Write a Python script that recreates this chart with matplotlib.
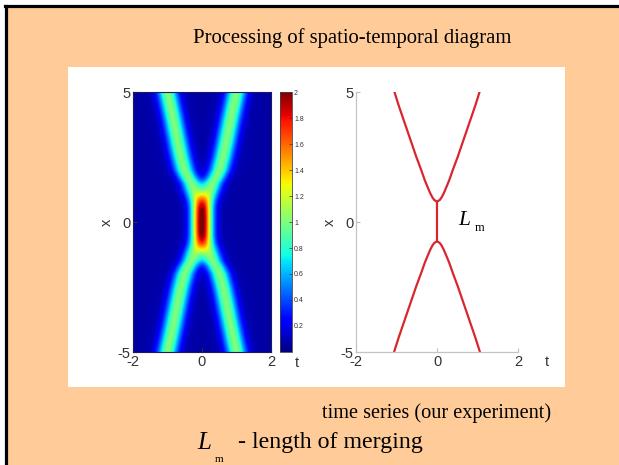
import numpy as np
import matplotlib
matplotlib.use("Agg")
import matplotlib.pyplot as plt
from matplotlib.patches import Rectangle
from matplotlib.lines import Line2D

# ---------------- data ----------------
# heatmap: beam centre-line |t| versus |x|, beam amplitude and width
hm_x_nodes = [0.0, 0.5, 0.8, 1.0, 1.2, 1.5, 1.75, 2.0, 2.5, 3.0, 4.0, 5.0]
hm_center = [0.0, 0.04, 0.11, 0.17, 0.23, 0.31, 0.42, 0.51, 0.61, 0.69, 0.84, 1.00]
hm_amp_nodes = [0.0, 0.4, 0.8, 1.2, 2.0, 5.0]
hm_amp = [1.00, 0.99, 0.95, 0.92, 0.93, 0.94]
hm_width = 0.205
hm_background = 0.07

# right plot: red traces (|t| vs x) for upper and lower branches
x_upper = [0.78, 0.85, 0.95, 1.1, 1.3, 1.6, 2.0, 2.5, 3.0, 3.5, 4.0, 4.5, 5.0]
t_upper = [0.0, 0.07, 0.115, 0.165, 0.22, 0.30, 0.39, 0.51, 0.62, 0.73, 0.84, 0.95, 1.05]
x_lower = [-0.74, -0.81, -0.91, -1.06, -1.26, -1.56, -1.96, -2.46, -2.96, -3.46, -3.96, -4.46, -5.0]
t_lower = [0.0, 0.07, 0.115, 0.165, 0.22, 0.30, 0.39, 0.51, 0.62, 0.73, 0.84, 0.95, 1.06]
merge_x = [-0.74, 0.78]

cbar_ticks = [0.2, 0.4, 0.6, 0.8, 1.0, 1.2, 1.4, 1.6, 1.8, 2.0]
x_ticks = [-2, 0, 2]
y_ticks = [-5, 0, 5]

title_text = "Processing of spatio-temporal diagram"
caption_text = "time series (our experiment)"
legend_text = "- length of merging"

# ---------------- figure ----------------
W, H = 619, 465
fig = plt.figure(figsize=(W / 100, H / 100), dpi=100)
fig.patch.set_facecolor("white")

def fx(px):
    return px / W

def fy(py):
    return 1 - py / H

peach = "#FFCC99"
fig.patches.append(Rectangle((fx(5), 0), 1 - fx(5), fy(5), transform=fig.transFigure,
                             facecolor=peach, edgecolor="none", zorder=-3))
fig.lines.append(Line2D([fx(6), fx(6)], [0, fy(6)], transform=fig.transFigure,
                        color="black", lw=2.3, zorder=-2))
fig.lines.append(Line2D([fx(5), 1], [fy(6), fy(6)], transform=fig.transFigure,
                        color="black", lw=2.3, zorder=-2))
# white panel
fig.patches.append(Rectangle((fx(68), fy(387)), fx(565) - fx(68), fy(67) - fy(387),
                             transform=fig.transFigure, facecolor="white",
                             edgecolor="none", zorder=-1))

serif = ["Liberation Serif", "DejaVu Serif"]
sans = ["Liberation Sans", "DejaVu Sans"]
tick_col = "#333333"

fig.text(fx(352), fy(38), title_text, family=serif, fontsize=14.9,
         ha="center", va="center", color="black")
fig.text(fx(437), fy(413), caption_text, family=serif, fontsize=14.6,
         ha="center", va="center", color="black")
fig.text(fx(204), fy(443), "L", family=serif, style="italic", fontsize=18,
         ha="center", va="center", color="black")
fig.text(fx(219), fy(459), "m", family=serif, fontsize=8,
         ha="center", va="center", color="black")
fig.text(fx(238), fy(442), legend_text, family=serif, fontsize=17.2,
         ha="left", va="center", color="black")

# ---------------- heatmap ----------------
ax1 = fig.add_axes([fx(133), fy(352), fx(271) - fx(133), fy(92) - fy(352)])
tg = np.linspace(-2, 2, 401)
xg = np.linspace(-5, 5, 501)
ax_abs = np.abs(xg)
c = np.interp(ax_abs, hm_x_nodes, hm_center)
a = np.interp(ax_abs, hm_amp_nodes, hm_amp)
T = tg[None, :]
field = (a[:, None] * np.exp(-(T - c[:, None]) ** 2 / (2 * hm_width ** 2)) +
         a[:, None] * np.exp(-(T + c[:, None]) ** 2 / (2 * hm_width ** 2)) + hm_background)
im = ax1.imshow(field, extent=[-2, 2, -5, 5], origin="lower", aspect="auto",
                cmap="jet", vmin=0, vmax=2, interpolation="bilinear")
ax1.set_xticks(x_ticks)
ax1.set_yticks(y_ticks)
ax1.set_xticklabels([str(v) for v in x_ticks])
ax1.set_yticklabels([str(v) for v in y_ticks])
ax1.tick_params(direction="in", length=3, labelsize=10.5, colors=tick_col, pad=2)
for lab in ax1.get_xticklabels() + ax1.get_yticklabels():
    lab.set_family(sans)
for s in ax1.spines.values():
    s.set_color("#1a1a60")
    s.set_linewidth(0.8)

cax = fig.add_axes([fx(280), fy(352), fx(292) - fx(280), fy(92) - fy(352)])
cb = fig.colorbar(im, cax=cax)
cb.set_ticks(cbar_ticks)
cb.set_ticklabels(["%g" % v for v in cbar_ticks])
cax.tick_params(direction="in", length=2, labelsize=5, colors=tick_col, pad=1.5, width=0.5)
for lab in cax.get_yticklabels():
    lab.set_family(sans)
cb.outline.set_edgecolor("#444444")
cb.outline.set_linewidth(0.6)

fig.text(fx(107), fy(222), "x", family=sans, fontsize=10.5, rotation=90,
         ha="center", va="center", color=tick_col)
fig.text(fx(297), fy(363), "t", family=sans, fontsize=10.5,
         ha="center", va="center", color=tick_col)

# ---------------- red traces ----------------
ax2 = fig.add_axes([fx(356), fy(352), fx(518) - fx(356), fy(92) - fy(352)])
red = "#D9262E"
ax2.plot(t_upper, x_upper, color=red, lw=1.6, solid_capstyle="round")
ax2.plot([-v for v in t_upper], x_upper, color=red, lw=1.6, solid_capstyle="round")
ax2.plot(t_lower, x_lower, color=red, lw=1.6, solid_capstyle="round")
ax2.plot([-v for v in t_lower], x_lower, color=red, lw=1.6, solid_capstyle="round")
ax2.plot([0, 0], merge_x, color=red, lw=1.6)
ax2.set_xlim(-2, 2)
ax2.set_ylim(-5, 5)
ax2.set_xticks(x_ticks)
ax2.set_yticks(y_ticks)
ax2.set_xticklabels([str(v) for v in x_ticks])
ax2.set_yticklabels([str(v) for v in y_ticks])
ax2.tick_params(direction="in", length=3, labelsize=10.5, colors=tick_col, pad=2,
                color="#bbbbbb")
for lab in ax2.get_xticklabels() + ax2.get_yticklabels():
    lab.set_family(sans)
ax2.spines["top"].set_visible(False)
ax2.spines["right"].set_visible(False)
for side in ("left", "bottom"):
    ax2.spines[side].set_color("#c4c4c4")
    ax2.spines[side].set_linewidth(0.9)
ax2.patch.set_alpha(0)
ax2.text(0.53, 0.05, "L", family=serif, style="italic", fontsize=15.5,
         ha="left", va="center", color="black")
ax2.text(0.93, -0.22, "m", family=serif, fontsize=9,
         ha="left", va="center", color="black")

fig.text(fx(330), fy(222), "x", family=sans, fontsize=10.5, rotation=90,
         ha="center", va="center", color=tick_col)
fig.text(fx(547), fy(362), "t", family=sans, fontsize=10.5,
         ha="center", va="center", color=tick_col)

fig.savefig("out.png", dpi=100, facecolor=fig.get_facecolor())
